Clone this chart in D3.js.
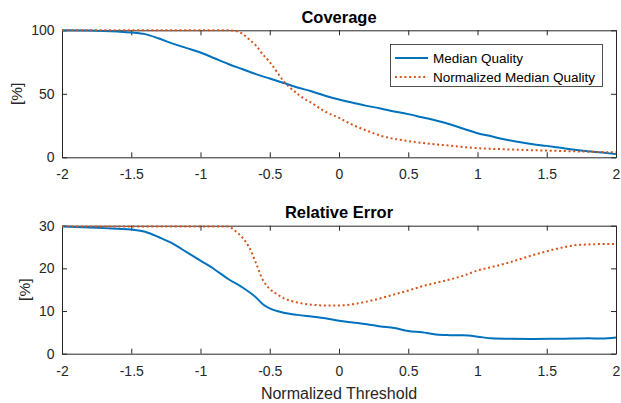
<!DOCTYPE html>
<meta charset="utf-8">
<style>
body { margin: 0; background: #fff; }
svg { font-family: "Liberation Sans", Arial, Helvetica, sans-serif; }
.axis text { font-size: 14px; fill: #262626; }
.axis path, .axis line { stroke: #262626; stroke-width: 1; }
.title { font-size: 16.5px; font-weight: bold; fill: #000; }
.label { font-size: 15.5px; fill: #262626; }
.xlabel { font-size: 16px; }
.legend text { font-size: 13.5px; fill: #000; }
</style>
<body>
<script src="https://cdn.jsdelivr.net/npm/d3@7"></script>
<script>

// Coverage, Median Quality
var covMedX = [-2, -1.8, -1.6, -1.5, -1.4, -1.3, -1.2, -1.1, -1, -0.9, -0.8, -0.7, -0.6, -0.5, -0.4, -0.3, -0.2, -0.1, 0, 0.1, 0.2, 0.3, 0.4, 0.5, 0.6, 0.7, 0.8, 0.9, 1, 1.1, 1.2, 1.3, 1.4, 1.5, 1.6, 1.7, 1.8, 1.9, 2];
var covMedY = [100, 99.8, 99, 98.3, 97, 93.5, 89.5, 86, 82.5, 78, 73.5, 69.5, 65.5, 62, 58.5, 55, 52, 48.5, 45.5, 43, 40.5, 38.5, 36, 34, 31.5, 29, 26, 22.5, 19, 16.5, 14, 12, 10.3, 9, 7.5, 6, 4.8, 3.7, 2.5];

// Coverage, Normalized Median Quality
var covNormX = [-2, -1.5, -1, -0.8, -0.75, -0.7, -0.65, -0.6, -0.55, -0.5, -0.45, -0.4, -0.35, -0.3, -0.25, -0.2, -0.1, 0, 0.1, 0.2, 0.3, 0.4, 0.5, 0.6, 0.7, 0.8, 0.9, 1, 1.2, 1.4, 1.6, 1.8, 2];
var covNormY = [100, 100, 100, 100, 99.5, 97.5, 93, 88, 81, 75, 67.5, 60, 54.5, 50, 46, 43, 36, 31, 25.5, 21, 17, 14.5, 12.8, 11.3, 10.2, 9.2, 8.1, 7.2, 6.3, 5.6, 5, 4.4, 3.9];

// Relative error, Median Quality
var errMedX = [-2, -1.8, -1.6, -1.5, -1.4, -1.3, -1.2, -1.1, -1, -0.9, -0.8, -0.7, -0.6, -0.55, -0.5, -0.4, -0.3, -0.2, -0.1, 0, 0.1, 0.2, 0.3, 0.4, 0.5, 0.6, 0.7, 0.8, 0.9, 1, 1.1, 1.2, 1.4, 1.6, 1.8, 1.9, 2];
var errMedY = [29.8, 29.6, 29.3, 29.1, 28.6, 27.3, 25.8, 23.8, 21.8, 19.8, 17.5, 15.6, 13.2, 11.6, 10.6, 9.6, 9.1, 8.7, 8.3, 7.7, 7.3, 6.9, 6.4, 6, 5.3, 5, 4.5, 4.35, 4.3, 4, 3.6, 3.5, 3.45, 3.5, 3.6, 3.55, 3.8];

// Relative error, Normalized Median Quality
var errNormX = [-2, -1.5, -1, -0.8, -0.75, -0.7, -0.65, -0.6, -0.55, -0.5, -0.45, -0.4, -0.3, -0.2, -0.1, 0, 0.1, 0.2, 0.3, 0.4, 0.5, 0.6, 0.7, 0.8, 0.9, 1, 1.1, 1.2, 1.3, 1.4, 1.5, 1.6, 1.7, 1.8, 1.9, 2];
var errNormY = [29.8, 29.8, 29.8, 29.8, 28.8, 27.3, 25, 21.3, 17.3, 15.2, 14, 13, 12, 11.5, 11.3, 11.3, 11.6, 12.2, 13, 13.9, 14.8, 15.8, 16.6, 17.4, 18.3, 19.5, 20.3, 21.1, 22.1, 23.1, 24, 24.8, 25.4, 25.6, 25.7, 25.7];

var xTicks = [-2, -1.5, -1, -0.5, 0, 0.5, 1, 1.5, 2];
var seriesNames = ["Median Quality", "Normalized Median Quality"];
var colors = ["#0072BD", "#D95319"];

var width = 621, height = 403;
var svg = d3.select("body").append("svg")
    .attr("width", width)
    .attr("height", height);

var x = d3.scaleLinear().domain([-2, 2]).range([62, 616]);

var panels = [
  {title: "Coverage", ymax: 100, yticks: [0, 50, 100], top: 30.3, bottom: 157.3,
   titleY: 22.5, ylabelX: 16.5, series: [[covMedX, covMedY], [covNormX, covNormY]]},
  {title: "Relative Error", ymax: 30, yticks: [0, 10, 20, 30], top: 225.7, bottom: 353.7,
   titleY: 218, ylabelX: 25, series: [[errMedX, errMedY], [errNormX, errNormY]]}
];

panels.forEach(function(p) {
  var y = d3.scaleLinear().domain([0, p.ymax]).range([p.bottom, p.top]);
  var g = svg.append("g");

  g.append("g").attr("class", "axis")
      .attr("transform", "translate(0," + p.bottom + ")")
      .call(d3.axisBottom(x).tickValues(xTicks).tickSize(-5).tickSizeOuter(0).tickPadding(12)
        .tickFormat(function(d) { return String(d); }));
  g.append("g").attr("class", "axis")
      .attr("transform", "translate(0," + p.top + ")")
      .call(d3.axisTop(x).tickValues(xTicks).tickSize(-5).tickSizeOuter(0).tickFormat(""));
  g.append("g").attr("class", "axis")
      .attr("transform", "translate(" + x.range()[0] + ",0)")
      .call(d3.axisLeft(y).tickValues(p.yticks).tickSize(-5).tickSizeOuter(0).tickPadding(7.5)
        .tickFormat(function(d) { return String(d); }));
  g.append("g").attr("class", "axis")
      .attr("transform", "translate(" + x.range()[1] + ",0)")
      .call(d3.axisRight(y).tickValues(p.yticks).tickSize(-5).tickSizeOuter(0).tickFormat(""));

  g.append("text").attr("class", "title")
      .attr("x", (x.range()[0] + x.range()[1]) / 2)
      .attr("y", p.titleY)
      .attr("text-anchor", "middle")
      .text(p.title);

  g.append("text").attr("class", "label")
      .attr("transform", "translate(" + p.ylabelX + "," + (p.top + p.bottom) / 2 + ") rotate(-90)")
      .attr("text-anchor", "middle")
      .attr("dy", "0.35em")
      .text("[%]");

  var line = d3.line()
      .x(function(d) { return x(d[0]); })
      .y(function(d) { return y(d[1]); })
      .curve(d3.curveMonotoneX);

  p.series.forEach(function(s, i) {
    var pts = d3.zip(s[0], s[1]);
    g.append("path")
        .attr("d", line(pts))
        .attr("fill", "none")
        .attr("stroke", colors[i])
        .attr("stroke-width", 2)
        .attr("stroke-dasharray", i === 1 ? "2,2.7" : null);
  });
});

svg.append("text").attr("class", "label xlabel")
    .attr("x", (x.range()[0] + x.range()[1]) / 2)
    .attr("y", 398.5)
    .attr("text-anchor", "middle")
    .text("Normalized Threshold");

// legend
var legend = svg.append("g").attr("class", "legend");
legend.append("rect")
    .attr("x", 390.5).attr("y", 44.5)
    .attr("width", 212).attr("height", 42)
    .attr("fill", "#fff")
    .attr("stroke", "#262626")
    .attr("stroke-width", 0.8);
seriesNames.forEach(function(name, i) {
  var ly = 58 + i * 19;
  legend.append("line")
      .attr("x1", 395).attr("x2", 428)
      .attr("y1", ly).attr("y2", ly)
      .attr("stroke", colors[i])
      .attr("stroke-width", 2)
      .attr("stroke-dasharray", i === 1 ? "2,2.7" : null);
  legend.append("text")
      .attr("x", 433).attr("y", ly)
      .attr("dy", "0.35em")
      .text(name);
});
</script>
